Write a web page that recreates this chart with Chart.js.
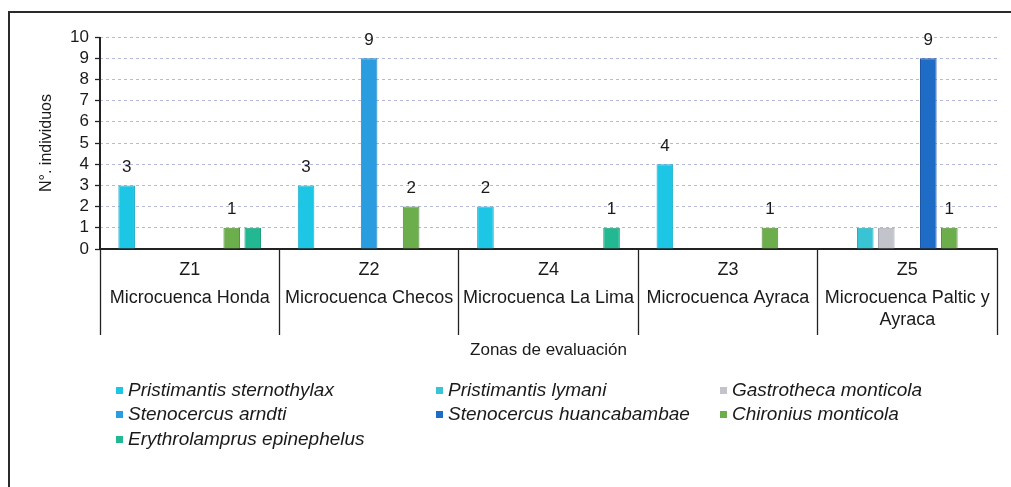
<!DOCTYPE html>
<html>
<head>
<meta charset="utf-8">
<script src="https://cdn.jsdelivr.net/npm/chart.js@4/dist/chart.umd.min.js"></script>
<style>
  html, body { margin: 0; padding: 0; background: #fff; }
  #wrap { width: 1011px; height: 487px; position: relative; }
</style>
</head>
<body>
<div id="wrap"><canvas id="chart"></canvas></div>
<script>
// Zones (category axis) and their descriptive names
const zoneCodes = ['Z1', 'Z2', 'Z4', 'Z3', 'Z5'];
const zoneNames = [
  ['Microcuenca Honda'],
  ['Microcuenca Checos'],
  ['Microcuenca La Lima'],
  ['Microcuenca Ayraca'],
  ['Microcuenca Paltic y', 'Ayraca']
];

// Species names (series)
const speciesNames = [
  'Pristimantis sternothylax',
  'Pristimantis lymani',
  'Gastrotheca monticola',
  'Stenocercus arndti',
  'Stenocercus huancabambae',
  'Chironius monticola',
  'Erythrolamprus epinephelus'
];

// Number of individuals per zone (null = not recorded)
const sternothylax   = [3, 3, 2, 4, null];
const lymani         = [null, null, null, null, 1];
const gastrotheca    = [null, null, null, null, 1];
const arndti         = [null, 9, null, null, null];
const huancabambae   = [null, null, null, null, 9];
const chironius      = [1, 2, null, 1, 1];
const erythrolamprus = [1, null, 1, null, null];

// Which values carry a printed label
const sternothylaxLabels   = [true, true, true, true, false];
const lymaniLabels         = [false, false, false, false, false];
const gastrothecaLabels    = [false, false, false, false, false];
const arndtiLabels         = [false, true, false, false, false];
const huancabambaeLabels   = [false, false, false, false, true];
const chironiusLabels      = [true, true, false, true, true];
const erythrolamprusLabels = [false, false, true, false, false];

// Y axis ticks
const yTicks = [0, 1, 2, 3, 4, 5, 6, 7, 8, 9, 10];

const seriesValues = [sternothylax, lymani, gastrotheca, arndti, huancabambae, chironius, erythrolamprus];
const seriesLabels = [sternothylaxLabels, lymaniLabels, gastrothecaLabels, arndtiLabels, huancabambaeLabels, chironiusLabels, erythrolamprusLabels];
const seriesColors = ['#1ec6e6', '#38c4d4', '#c2c3cb', '#2a9ce0', '#1f6cc6', '#6cae4c', '#22b892'];
const seriesBorders = ['#17a9c6', '#2aa8b8', '#a4a5ae', '#1f82c2', '#1a55a4', '#548f38', '#1a9a78'];

const FONT = '"Liberation Sans", Arial, sans-serif';
const TEXT = '#1a1a1a';

const datasets = seriesValues.map((vals, i) => ({
  label: speciesNames[i],
  data: vals,
  backgroundColor: seriesColors[i],
  borderColor: seriesBorders[i],
  borderWidth: 1,
  categoryPercentage: 0.82,
  barPercentage: 0.79,
  showLabel: seriesLabels[i]
}));

// Page frame, axis lines, zone labels, value labels and legend
const decorations = {
  id: 'decorations',
  beforeDraw(chart) {
    const { ctx, width, height } = chart;
    ctx.save();
    ctx.fillStyle = '#fff';
    ctx.fillRect(0, 0, width, height);
    ctx.strokeStyle = '#2a2a2a';
    ctx.lineWidth = 2;
    ctx.beginPath();
    ctx.moveTo(9, height);
    ctx.lineTo(9, 12);
    ctx.lineTo(width, 12);
    ctx.stroke();
    ctx.restore();
  },
  afterDraw(chart) {
    const { ctx, chartArea } = chart;
    const x = chart.scales.x;
    ctx.save();
    // value axis line
    ctx.strokeStyle = '#222';
    ctx.lineWidth = 2;
    ctx.beginPath();
    ctx.moveTo(chartArea.left, chartArea.top);
    ctx.lineTo(chartArea.left, chartArea.bottom);
    ctx.stroke();

    // zone labels under the axis
    ctx.fillStyle = TEXT;
    ctx.textAlign = 'center';
    ctx.textBaseline = 'middle';
    ctx.font = '18px ' + FONT;
    zoneCodes.forEach((code, i) => {
      const cx = x.getPixelForValue(i);
      ctx.fillText(code, cx, chartArea.bottom + 21);
      zoneNames[i].forEach((line, j) => {
        ctx.fillText(line, cx, chartArea.bottom + 49 + j * 22);
      });
    });

    // printed values above bars
    ctx.font = '17px ' + FONT;
    chart.data.datasets.forEach((ds, di) => {
      const meta = chart.getDatasetMeta(di);
      meta.data.forEach((el, i) => {
        if (ds.showLabel[i] && ds.data[i] != null) {
          ctx.fillText(String(ds.data[i]), el.x, el.y - 18);
        }
      });
    });

    // legend, three columns filled row by row
    const colX = [116, 436, 720];
    const rowY = [391, 415, 440];
    ctx.textAlign = 'left';
    ctx.font = 'italic 19px ' + FONT;
    chart.data.datasets.forEach((ds, i) => {
      const cx = colX[i % 3];
      const cy = rowY[Math.floor(i / 3)];
      ctx.fillStyle = ds.backgroundColor;
      ctx.fillRect(cx, cy - 4, 7, 7);
      ctx.fillStyle = TEXT;
      ctx.fillText(ds.label, cx + 12, cy);
    });
    ctx.restore();
  }
};

new Chart(document.getElementById('chart'), {
  type: 'bar',
  data: { labels: zoneCodes, datasets },
  plugins: [decorations],
  options: {
    responsive: true,
    maintainAspectRatio: false,
    animation: false,
    events: [],
    layout: { padding: { top: 37, right: 14, bottom: 0, left: 0 } },
    plugins: {
      legend: { display: false },
      tooltip: { enabled: false }
    },
    scales: {
      x: {
        type: 'category',
        offset: true,
        afterFit(scale) { scale.height = 238; },
        grid: {
          offset: true,
          drawOnChartArea: false,
          drawTicks: true,
          tickLength: 86,
          tickColor: '#222',
          tickWidth: 1.3
        },
        border: { display: true, color: '#222', width: 2 },
        ticks: { display: false },
        title: {
          display: true,
          text: 'Zonas de evaluación',
          color: TEXT,
          font: { family: FONT, size: 17 },
          padding: { top: 0, bottom: 126 }
        }
      },
      y: {
        min: 0,
        max: 10,
        afterFit(scale) { scale.width = 100; },
        afterBuildTicks(scale) { scale.ticks = yTicks.map(v => ({ value: v })); },
        grid: {
          color: 'rgba(120,128,190,0.55)',
          lineWidth: 1,
          drawTicks: true,
          tickLength: 5,
          tickColor: '#222',
          tickWidth: 1.3,
          tickBorderDash: []
        },
        border: { display: false, dash: [3, 3] },
        ticks: {
          autoSkip: false,
          stepSize: 1,
          color: TEXT,
          font: { family: FONT, size: 17 },
          padding: 6
        },
        title: {
          display: true,
          text: 'N°. individuos',
          color: TEXT,
          font: { family: FONT, size: 16 },
          padding: { top: 37, bottom: 0 }
        }
      }
    }
  }
});
</script>
</body>
</html>
